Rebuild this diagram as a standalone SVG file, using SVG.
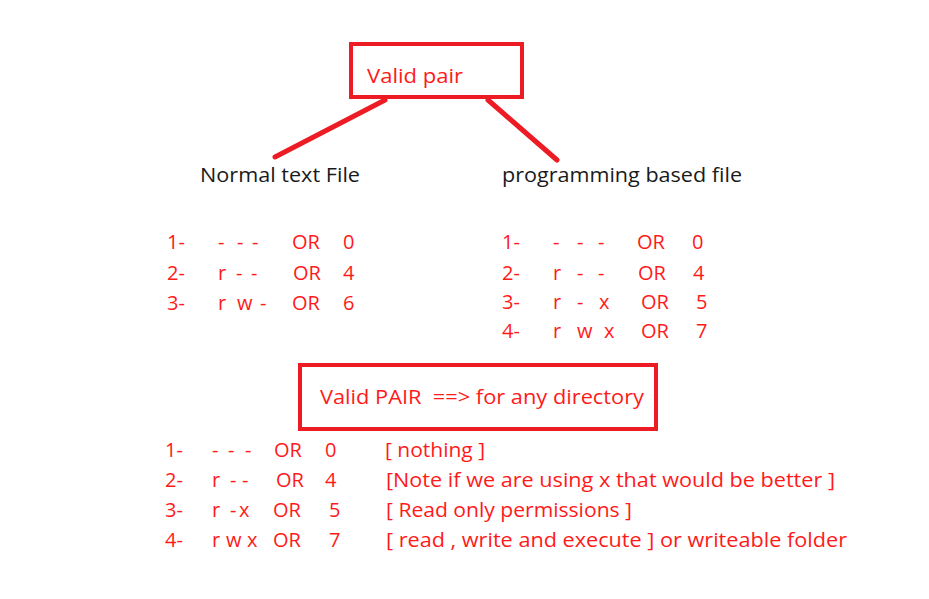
<svg xmlns="http://www.w3.org/2000/svg" width="929" height="599" viewBox="0 0 929 599">
<style>
text{font-family:"Open Sans","Noto Sans",sans-serif;font-size:20px;fill:#ff1a1a}
.blk{fill:#1a1a1a}
.box{fill:none;stroke:#ed1c24;stroke-width:4}
.ln{stroke:#ed1c24;stroke-width:5;stroke-linecap:round}
</style>
<rect width="929" height="599" fill="#fff"/>
<g id="valid-pair">
<rect class="box" x="351" y="44" width="171" height="53"/>
<text x="367" y="83" textLength="96" lengthAdjust="spacingAndGlyphs">Valid pair</text>
</g>
<g id="connectors">
<line class="ln" x1="385" y1="100" x2="275" y2="157"/>
<line class="ln" x1="488" y1="100" x2="557" y2="160"/>
</g>
<g id="normal-file">
<text class="blk" x="200" y="182" textLength="160" lengthAdjust="spacingAndGlyphs">Normal text File</text>
<text x="167" y="249">1-</text><text x="218 237 252" y="249">---</text><text x="292" y="249">OR</text><text x="343" y="249">0</text>
<text x="167" y="280">2-</text><text x="218 236 251" y="280">r--</text><text x="293" y="280">OR</text><text x="343" y="280">4</text>
<text x="167" y="310">3-</text><text x="218 237 260" y="310">rw-</text><text x="292" y="310">OR</text><text x="343" y="310">6</text>
</g>
<g id="programming-file">
<text class="blk" x="502" y="182" textLength="240" lengthAdjust="spacingAndGlyphs">programming based file</text>
<text x="502" y="249">1-</text><text x="553 577 598" y="249">---</text><text x="637" y="249">OR</text><text x="692" y="249">0</text>
<text x="502" y="280">2-</text><text x="553 577 598" y="280">r--</text><text x="638" y="280">OR</text><text x="693" y="280">4</text>
<text x="502" y="309">3-</text><text x="553 577 599" y="309">r-x</text><text x="641" y="309">OR</text><text x="696" y="309">5</text>
<text x="502" y="338">4-</text><text x="553 577 604" y="338">rwx</text><text x="641" y="338">OR</text><text x="696" y="338">7</text>
</g>
<g id="directory">
<rect class="box" x="300" y="365" width="356" height="64"/>
<text x="320" y="404" textLength="324" lengthAdjust="spacingAndGlyphs" xml:space="preserve">Valid PAIR  ==&gt; for any directory</text>
<text x="165" y="457">1-</text><text x="212 228 245" y="457">---</text><text x="274" y="457">OR</text><text x="325" y="457">0</text>
<text x="385" y="457" textLength="100" lengthAdjust="spacingAndGlyphs">[ nothing ]</text>
<text x="165" y="487">2-</text><text x="212 230 242" y="487">r--</text><text x="276" y="487">OR</text><text x="325" y="487">4</text>
<text x="386" y="487" textLength="449" lengthAdjust="spacingAndGlyphs">[Note if we are using x that would be better ]</text>
<text x="165" y="517">3-</text><text x="212 230 239" y="517">r-x</text><text x="273" y="517">OR</text><text x="329" y="517">5</text>
<text x="386" y="517" textLength="246" lengthAdjust="spacingAndGlyphs">[ Read only permissions ]</text>
<text x="165" y="547">4-</text><text x="212 226 247" y="547">rwx</text><text x="273" y="547">OR</text><text x="329" y="547">7</text>
<text x="386" y="547" textLength="461" lengthAdjust="spacingAndGlyphs">[ read , write and execute ] or writeable folder</text>
</g>
</svg>
